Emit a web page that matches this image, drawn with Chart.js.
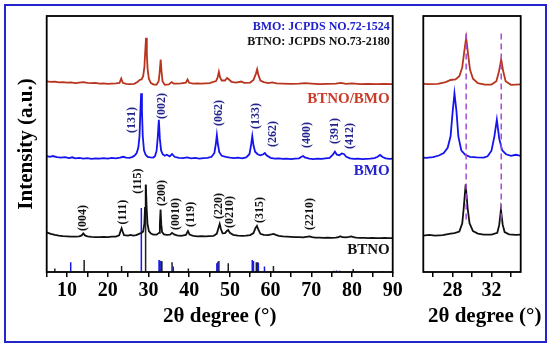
<!DOCTYPE html>
<html>
<head>
<meta charset="utf-8">
<script src="https://cdn.jsdelivr.net/npm/chart.js@4.4.0/dist/chart.umd.min.js"></script>
<style>
body { margin: 0; background: #fff; }
#wrap { position: relative; width: 550px; height: 345px; overflow: hidden; }
#c1 { position: absolute; left: 0; top: 0; width: 410px; height: 345px; }
#c2 { position: absolute; left: 400px; top: 0; width: 150px; height: 345px; }
#frame { position: absolute; left: 4px; top: 4px; width: 539px; height: 335px; border: 2px solid #2424cc; pointer-events: none; }
</style>
</head>
<body>
<div id="wrap">
<canvas id="c1" width="410" height="345"></canvas>
<canvas id="c2" width="150" height="345"></canvas>
<div id="frame"></div>
</div>
<script>
// 2theta (deg) and intensity (a.u., stacked offsets)
const btnoAngle = [5,6,7,8,9,10,11,12,13,13.6,14.0,14.4,15,16,17,18,19,20,21,22,22.8,23.15,23.4,23.65,24.0,25,25.6,26.2,27,27.8,28.2,28.7,29.0,29.15,29.35,29.55,29.75,30.1,30.6,31.2,32.0,32.6,32.8,32.97,33.15,33.35,33.8,34.5,35.3,35.8,36.3,37,38,39.2,39.7,40.1,41,42,43,44,45,46,46.8,47.2,47.5,47.8,48.2,48.8,49.3,49.6,50.0,50.8,52,53,54,55,55.8,56.3,56.65,57.0,57.5,58.3,59.3,60.2,60.7,61.3,62,63,64,65,66,67,68,69.2,69.6,70.2,71,72,73,74,75,76,76.7,77.1,77.6,78.5,79.3,79.8,80.4,81,82,83,84,85,86,87,88,89,90];
const btnoInt = [15.5,14.9,14.5,14.2,14.0,13.9,13.8,13.8,13.9,14.3,15.1,14.3,13.9,13.7,13.6,13.6,13.7,13.6,13.8,13.8,14.3,16.0,17.1,15.8,14.4,14.2,14.5,14.2,14.4,15.0,15.2,15.8,19.0,25.0,34.2,25.0,19.0,16.0,15.0,14.6,14.6,15.3,18.5,24.4,18.5,15.6,14.7,14.5,14.6,15.3,14.7,14.3,14.1,14.5,16.0,14.6,14.1,13.9,14.0,13.9,14.0,14.1,15.0,17.2,18.8,16.8,15.1,15.2,16.1,16.4,15.3,14.5,14.2,14.1,14.2,14.4,15.2,17.2,18.0,16.5,14.9,14.5,14.4,14.7,14.9,14.5,14.1,13.9,13.8,13.7,13.6,13.6,13.5,13.8,13.9,13.6,13.4,13.4,13.3,13.4,13.3,13.4,13.6,14.0,13.6,13.5,13.7,13.9,13.6,13.4,13.3,13.3,13.2,13.3,13.2,13.2,13.3,13.2,13.2];

const bmoAngle = [5,5.8,6.5,7.5,8.5,9.5,10.5,11.3,12,13,14,15,16,17,18,19,20,21,22,23,23.8,24.5,25.3,26,26.6,27.1,27.5,27.8,28.0,28.2,28.4,28.6,28.9,29.3,29.8,30.5,31.2,31.6,32.0,32.3,32.55,32.8,33.1,33.5,34.0,34.5,35.2,35.8,36.4,37.5,38.5,39.5,40.5,41.5,42.5,43.5,44.5,45.5,46.2,46.55,46.8,47.05,47.4,48,49,50,51,52,53,54,54.8,55.2,55.5,55.8,56.2,56.8,57.5,58.2,58.6,59.0,60,61,62,63,64,65,66,67,67.6,68.0,68.4,69.5,70.5,71.5,72.5,73.5,74.5,75.3,75.8,76.3,76.9,77.5,78.0,78.6,79.5,80.5,81.5,82.5,83.5,84.5,85.5,86.3,86.9,87.5,88.3,89.2,90];
const bmoInt = [45.3,45.0,45.3,44.9,44.7,44.9,44.5,44.8,44.4,44.6,44.3,44.5,44.2,44.4,44.3,44.5,44.3,44.6,44.4,44.7,45.0,44.7,44.6,44.9,45.5,46.5,48.5,53.0,62.0,69.8,63.0,53.0,47.5,45.8,45.0,44.8,44.7,45.2,47.4,53.0,59.5,52.0,47.5,46.0,45.4,45.8,45.2,46.1,45.0,44.6,44.5,44.8,44.4,44.6,44.3,44.5,44.6,45.0,46.5,50.0,53.5,50.0,46.8,45.4,45.0,44.7,44.5,44.7,44.4,44.8,46.0,49.5,53.1,49.5,47.0,46.0,45.6,46.0,46.5,45.6,44.6,44.3,44.4,44.2,44.3,44.1,44.3,44.4,45.0,45.3,44.8,44.3,44.1,44.3,44.2,44.4,44.6,45.8,47.0,45.8,45.6,46.3,46.1,45.0,44.4,44.2,44.3,44.1,44.2,44.3,44.5,45.0,45.7,44.9,44.4,44.2,44.3];

const mixAngle = [5,6,7,8,9,10,11,12,13,14,15,16,17,18,19,20,21,22,22.9,23.3,23.7,24.5,25.5,26.5,27.3,27.8,28.3,28.7,29.0,29.2,29.4,29.6,29.8,30.1,30.6,31.3,32.0,32.5,32.75,33.0,33.2,33.45,34.0,35.0,35.7,36.2,37,38,39.2,39.6,40.0,41,42,43,44,45,46.6,47.0,47.3,47.6,48.0,48.8,49.3,49.7,50.4,51.5,52.8,53.5,55.0,55.8,56.4,56.7,57.0,57.5,58.3,59.5,60.4,61.5,63,65,67,68.5,70,72,74,76,77.3,78.5,80,82,84,86,88,90];
const mixInt = [74.5,74.3,74.4,74.1,74.2,74.0,74.1,73.8,74.0,74.2,73.9,73.8,73.9,73.6,73.7,73.5,73.6,73.7,73.9,75.6,73.9,73.5,73.4,73.5,74.2,75.0,75.2,76.5,80.0,86.0,91.5,85.0,79.0,75.5,73.8,73.2,73.2,74.5,78.0,83.0,78.5,74.5,73.1,73.3,74.2,73.6,73.6,73.7,74.0,75.2,73.9,73.6,73.7,73.6,73.7,73.8,74.6,76.0,78.2,76.0,74.8,74.8,75.8,75.3,74.3,74.0,74.4,73.9,74.0,75.0,77.5,79.2,77.0,74.8,74.2,73.8,74.1,73.7,73.6,73.5,73.6,73.8,73.6,73.4,73.5,73.6,73.9,73.5,73.7,73.4,73.5,73.4,73.5,73.4];

// JCPDS reference sticks
const bmoRefAngle = [10.9, 28.25, 32.6, 32.85, 36.1, 46.8, 47.05, 55.5, 55.8, 57.0, 58.5, 75.5, 76.2, 87.5];
const bmoRefInt = [3.8, 25.0, 4.7, 4.4, 2.1, 3.4, 4.0, 4.7, 4.3, 3.6, 2.1, 0.5, 0.6, 0.3];
const btnoRefAngle = [7.0, 14.2, 23.4, 29.3, 33.1, 33.3, 35.8, 39.8, 47.3, 49.6, 56.5, 56.8, 60.7, 77.0, 80.3];
const btnoRefInt = [1.4, 4.7, 2.3, 34.0, 4.3, 4.2, 3.8, 1.4, 4.3, 3.4, 3.8, 3.8, 2.3, 0.5, 1.2];

// peak indices
const bmoHkl = ['(131)', '(002)', '(062)', '(133)', '(262)', '(400)', '(391)', '(412)'];
const bmoHklAngle = [26.0, 33.3, 47.4, 56.4, 60.5, 68.9, 75.8, 79.5];
const bmoHklPos = [59.4, 64.8, 62.1, 60.9, 53.9, 53.5, 55.1, 53.1];
const btnoHkl = ['(004)', '(111)', '(115)', '(200)', '(0010)', '(119)', '(220)', '(0210)', '(315)', '(2210)'];
const btnoHklAngle = [14.0, 23.8, 27.5, 33.4, 36.7, 40.4, 47.3, 50.0, 57.4, 69.7];
const btnoHklPos = [21.1, 23.4, 35.5, 30.9, 22.7, 22.5, 25.8, 23.4, 24.2, 22.7];

// dashed guide lines in the zoomed panel
const guideAngle = [29.4, 33.0];
const guideSpan = [20.5, 94];

const serif = "'Liberation Serif', 'Times New Roman', serif";

function pts(xs, ys) {
    return xs.map((x, i) => ({ x: x, y: ys[i] }));
}
function sticks(xs, hs) {
    const out = [];
    xs.forEach((x, i) => { out.push({ x: x, y: 0 }, { x: x, y: hs[i] }, { x: x, y: null }); });
    return out;
}
function curve(label, data, color) {
    return { label: label, data: data, borderColor: color, borderWidth: 1.8, pointRadius: 0, tension: 0, fill: false };
}

const frameAndText = {
    id: 'frameAndText',
    afterDatasetsDraw(chart, args, opts) {
        const { ctx, chartArea: a, scales } = chart;
        ctx.save();
        ctx.strokeStyle = '#000';
        ctx.lineWidth = 1.8;
        ctx.strokeRect(a.left, a.top, a.right - a.left, a.bottom - a.top);
        (opts.hkl || []).forEach(g => {
            ctx.fillStyle = g.color;
            ctx.font = 'bold 12px ' + serif;
            ctx.textAlign = 'center';
            ctx.textBaseline = 'middle';
            g.text.forEach((t, i) => {
                ctx.save();
                ctx.translate(scales.x.getPixelForValue(g.at[i]), scales.y.getPixelForValue(g.pos[i]));
                ctx.rotate(-Math.PI / 2);
                ctx.fillText(t, 0, 0);
                ctx.restore();
            });
        });
        (opts.notes || []).forEach(n => {
            ctx.fillStyle = n.color;
            ctx.font = 'bold ' + n.size + 'px ' + serif;
            ctx.textAlign = 'right';
            ctx.textBaseline = 'middle';
            ctx.fillText(n.text, a.right - 3, scales.y.getPixelForValue(n.pos));
        });
        if (opts.xTitle) {
            ctx.fillStyle = '#000';
            ctx.font = 'bold 21px ' + serif;
            ctx.textAlign = 'center';
            ctx.textBaseline = 'middle';
            ctx.fillText(opts.xTitle, scales.x.getPixelForValue(opts.xTitleAt), chart.height - 28);
        }
        ctx.restore();
    }
};

const tickFont = { family: serif, size: 20, weight: 'bold' };

new Chart(document.getElementById('c1'), {
    type: 'line',
    data: {
        datasets: [
            curve('BTNO/BMO', pts(mixAngle, mixInt), '#b8341e'),
            curve('BMO', pts(bmoAngle, bmoInt), '#1414ee'),
            curve('BTNO', pts(btnoAngle, btnoInt), '#111'),
            { label: 'BMO ref', data: sticks(bmoRefAngle, bmoRefInt), borderColor: '#1a1ae6', borderWidth: 1.5, pointRadius: 0, spanGaps: false },
            { label: 'BTNO ref', data: sticks(btnoRefAngle, btnoRefInt), borderColor: '#222', borderWidth: 1.5, pointRadius: 0, spanGaps: false }
        ]
    },
    options: {
        responsive: false,
        animation: false,
        devicePixelRatio: 1,
        layout: { padding: { left: 0, top: 16, right: 17.3, bottom: 0 } },
        plugins: {
            legend: { display: false },
            tooltip: { enabled: false },
            frameAndText: {
                hkl: [
                    { text: bmoHkl, at: bmoHklAngle, pos: bmoHklPos, color: '#24248f' },
                    { text: btnoHkl, at: btnoHklAngle, pos: btnoHklPos, color: '#111' }
                ],
                notes: [
                    { text: 'BMO: JCPDS NO.72-1524', pos: 95.8, color: '#2020d0', size: 12 },
                    { text: 'BTNO: JCPDS NO.73-2180', pos: 90.0, color: '#111', size: 12 },
                    { text: 'BTNO/BMO', pos: 67.6, color: '#cc3a28', size: 15 },
                    { text: 'BMO', pos: 39.5, color: '#2323d0', size: 15 },
                    { text: 'BTNO', pos: 8.6, color: '#111', size: 15 }
                ]
            }
        },
        scales: {
            x: {
                type: 'linear', min: 5, max: 90,
                ticks: {
                    stepSize: 5, autoSkip: false, maxRotation: 0, padding: 2, color: '#000', font: tickFont,
                    callback: v => (v % 10 === 0 ? v : '')
                },
                grid: { drawOnChartArea: false, drawTicks: true, tickLength: 5, color: '#000', lineWidth: 1.5 },
                border: { display: false },
                title: { display: true, text: '2θ degree (°)', color: '#000', font: { family: serif, size: 21, weight: 'bold' }, padding: { top: 0, bottom: 15.4 } },
                afterFit: s => { s.height = 73; }
            },
            y: {
                min: 0, max: 100,
                ticks: { display: false },
                grid: { display: false },
                border: { display: false },
                title: { display: true, text: 'Intensity (a.u.)', color: '#000', font: { family: serif, size: 21, weight: 'bold' }, padding: { top: 14, bottom: 0 } },
                afterFit: s => { s.width = 46.7; }
            }
        }
    },
    plugins: [frameAndText]
});

new Chart(document.getElementById('c2'), {
    type: 'line',
    data: {
        datasets: [
            { label: 'guide 1', data: pts([guideAngle[0], guideAngle[0]], guideSpan), borderColor: '#a64ad8', borderWidth: 1.5, borderDash: [6, 4], pointRadius: 0 },
            { label: 'guide 2', data: pts([guideAngle[1], guideAngle[1]], guideSpan), borderColor: '#a64ad8', borderWidth: 1.5, borderDash: [6, 4], pointRadius: 0 },
            curve('BTNO/BMO', pts(mixAngle, mixInt), '#b8341e'),
            curve('BMO', pts(bmoAngle, bmoInt), '#1414ee'),
            curve('BTNO', pts(btnoAngle, btnoInt), '#111')
        ]
    },
    options: {
        responsive: false,
        animation: false,
        devicePixelRatio: 1,
        layout: { padding: { left: 23.3, top: 16, right: 29.3, bottom: 0 } },
        plugins: {
            legend: { display: false },
            tooltip: { enabled: false },
            frameAndText: { xTitle: '2θ degree (°)', xTitleAt: 31.3 }
        },
        scales: {
            x: {
                type: 'linear', min: 25, max: 35,
                ticks: {
                    stepSize: 1, autoSkip: false, maxRotation: 0, padding: 2, color: '#000', font: tickFont,
                    callback: v => (v === 28 || v === 32 ? String(v) : '')
                },
                grid: {
                    drawOnChartArea: false, drawTicks: true, tickLength: 5, lineWidth: 1.5,
                    tickColor: c => (c.tick && c.tick.value % 2 === 0 && c.tick.value > 25 && c.tick.value < 35 ? '#000' : 'rgba(0,0,0,0)')
                },
                border: { display: false },
                afterFit: s => { s.height = 73; }
            },
            y: { display: false, min: 0, max: 100 }
        }
    },
    plugins: [frameAndText]
});
</script>
</body>
</html>
